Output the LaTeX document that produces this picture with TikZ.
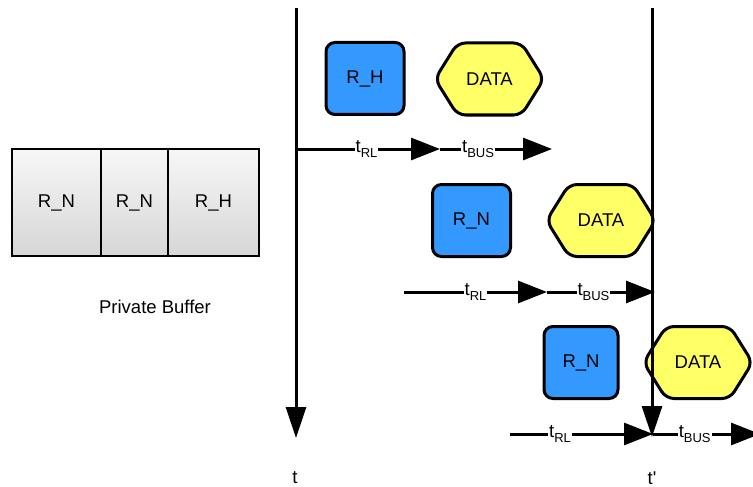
\documentclass[tikz,border=0pt]{standalone}
\usepackage{fontspec}
\setmainfont{Liberation Sans}
\usetikzlibrary{arrows.meta}
\definecolor{reqblue}{HTML}{3399FF}
\definecolor{datayellow}{HTML}{FFFF66}
\definecolor{celltop}{HTML}{F7F7F7}
\definecolor{cellbot}{HTML}{D6D6D6}
% subscript for the timing labels
\newcommand\tsub[1]{\raisebox{-0.28em}{\fontsize{13}{13}\selectfont #1}}
\begin{document}
\begin{tikzpicture}[x=1pt,y=-1pt,
  lbl/.style={font=\fontsize{18.5}{20}\selectfont, inner sep=0pt},
  reqbox/.style={draw, line width=3pt, fill=reqblue, rounded corners=9pt,
    minimum width=78pt, minimum height=72pt, lbl},
  hexline/.style={draw, line width=3pt, fill=datayellow, rounded corners=8pt, line join=round},
  cell/.style={draw, line width=1.6pt, top color=celltop, bottom color=cellbot,
    minimum height=107pt, lbl},
  timearrow/.style={line width=3pt, -{Triangle[length=29pt,width=22pt]}},
  axis/.style={line width=3pt, -{Triangle[length=31pt,width=20pt]}},
  tlbl/.style={fill=white, inner sep=1pt, font=\fontsize{18.5}{20}\selectfont},
  pics/datahex/.style={code={
    \draw[hexline] (-54.5,0) -- (-32,-36) -- (32,-36) -- (54.5,0) -- (32,36) -- (-32,36) -- cycle;
    \node[lbl] (-txt) at (0,0) {DATA};}}
]
\useasboundingbox (0,0) rectangle (753,487);
\clip (0,0) rectangle (753,487);

% private buffer
\node[cell, minimum width=89pt] (c1) at (56.5,202.5) {R\_N};
\node[cell, minimum width=67pt] (c2) at (134.5,202.5) {R\_N};
\node[cell, minimum width=91pt] (c3) at (213.5,202.5) {R\_H};
\node[lbl] (cap) at (155,307) {Private Buffer};

% timing arrows
\coordinate (r1a) at (296,149);
\coordinate (r1b) at (440,149);
\coordinate (r1c) at (552,149);
\draw[timearrow] (r1a) -- node[tlbl, pos=0.49] {t\tsub{RL}} (r1b);
\draw[timearrow] (r1b) -- node[tlbl, pos=0.34] {t\tsub{BUS}} (r1c);

\coordinate (r2a) at (404,292);
\coordinate (r2b) at (547,292);
\coordinate (r2c) at (655,292);
\draw[timearrow] (r2a) -- node[tlbl, pos=0.5] {t\tsub{RL}} (r2b);
\draw[timearrow] (r2b) -- node[tlbl, pos=0.43] {t\tsub{BUS}} (r2c);

\coordinate (r3a) at (510,434);
\coordinate (r3b) at (653,434);
\coordinate (r3c) at (760,434);
\draw[timearrow] (r3a) -- node[tlbl, pos=0.35] {t\tsub{RL}} (r3b);
\draw[timearrow] (r3b) -- node[tlbl, pos=0.39] {t\tsub{BUS}} (r3c);

% requests and data transfers
\node[reqbox] (h1) at (365,78.5) {R\_H};
\pic (d1) at (489.5,79) {datahex};
\node[reqbox] (n2) at (471.5,220.5) {R\_N};
\pic (d2) at (601,220.5) {datahex};
\node[reqbox, minimum width=74pt] (n3) at (581,362.5) {R\_N};
\pic (d3) at (698,362.5) {datahex};

% time axes
\coordinate (ttop) at (296,8);
\coordinate (tend) at (296,438);
\coordinate (uptop) at (652,8);
\coordinate (upend) at (652,437);
\draw[axis] (ttop) -- (tend);
\draw[axis] (uptop) -- (upend);
\node[lbl] (tl) at (295,478) {t};
\node[lbl] (tpl) at (652,478) {t\textquotesingle};
\end{tikzpicture}
\end{document}
